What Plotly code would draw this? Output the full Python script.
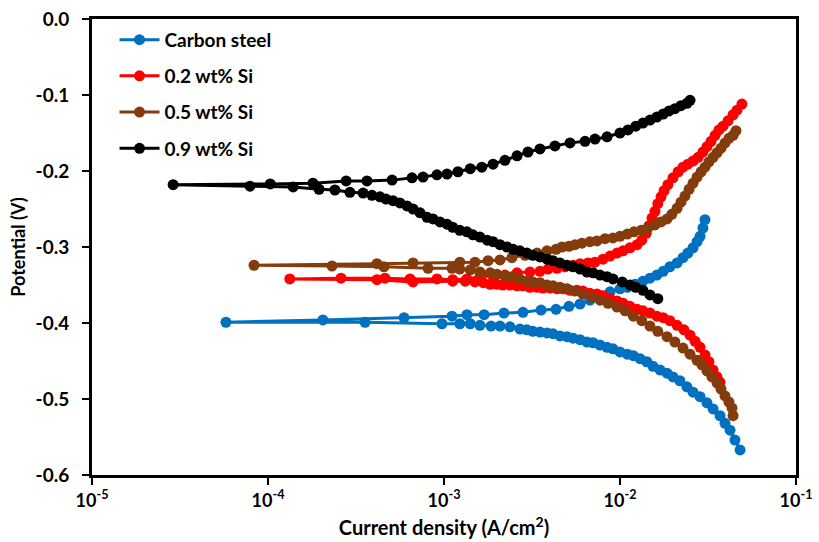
import plotly.graph_objects as go

# ---------------- data (current density in A/cm2, potential in V) ----------------
cs_i = [4.81e-2, 4.50e-2, 4.22e-2, 3.95e-2, 3.70e-2, 3.38e-2, 3.12e-2, 2.85e-2, 2.60e-2, 2.40e-2,
        2.19e-2, 2.00e-2, 1.85e-2, 1.69e-2, 1.54e-2, 1.42e-2, 1.30e-2, 1.19e-2, 1.10e-2, 1.00e-2,
        9.12e-3, 8.44e-3, 7.70e-3, 7.03e-3, 6.49e-3, 5.93e-3, 5.41e-3, 5.00e-3, 4.56e-3, 4.16e-3,
        3.85e-3, 3.51e-3, 3.20e-3, 2.96e-3, 2.70e-3, 2.37e-3, 2.08e-3, 1.85e-3, 1.60e-3, 1.41e-3,
        1.23e-3, 9.74e-4,
        3.56e-4, 5.77e-5, 2.05e-4, 5.93e-4,
        1.11e-3, 1.35e-3, 1.69e-3, 2.19e-3, 2.81e-3, 3.56e-3, 4.33e-3, 5.13e-3, 5.93e-3, 6.75e-3,
        7.70e-3, 8.78e-3, 1.00e-2, 1.10e-2, 1.22e-2, 1.35e-2, 1.48e-2, 1.62e-2, 1.76e-2, 1.92e-2,
        2.11e-2, 2.28e-2, 2.43e-2, 2.60e-2, 2.74e-2, 2.85e-2, 2.96e-2, 3.04e-2]
cs_E = [-0.567, -0.554, -0.541, -0.532, -0.522, -0.513, -0.505, -0.497, -0.491, -0.484,
        -0.476, -0.471, -0.466, -0.462, -0.457, -0.451, -0.447, -0.443, -0.441, -0.438,
        -0.434, -0.432, -0.429, -0.426, -0.425, -0.422, -0.420, -0.418, -0.417, -0.414,
        -0.413, -0.412, -0.411, -0.409, -0.408, -0.405, -0.404, -0.404, -0.403, -0.401,
        -0.401, -0.401,
        -0.399, -0.399, -0.396, -0.393,
        -0.391, -0.389, -0.389, -0.387, -0.386, -0.383, -0.382, -0.378, -0.375, -0.370,
        -0.364, -0.359, -0.355, -0.353, -0.349, -0.345, -0.341, -0.337, -0.332, -0.326,
        -0.321, -0.314, -0.308, -0.301, -0.293, -0.286, -0.275, -0.264]

si02_i = [3.70e-2, 3.56e-2, 3.38e-2, 3.20e-2, 3.04e-2, 2.85e-2, 2.67e-2, 2.50e-2, 2.31e-2, 2.11e-2,
          1.92e-2, 1.76e-2, 1.62e-2, 1.48e-2, 1.35e-2, 1.25e-2, 1.14e-2, 1.04e-2, 9.62e-3, 8.78e-3,
          8.01e-3, 7.40e-3, 6.75e-3, 6.16e-3, 5.70e-3, 5.20e-3, 4.75e-3, 4.39e-3, 4.00e-3, 3.65e-3,
          3.38e-3, 3.08e-3, 2.81e-3, 2.60e-3, 2.37e-3, 2.16e-3, 2.00e-3, 1.83e-3, 1.67e-3, 1.50e-3,
          1.32e-3, 1.12e-3, 6.67e-4,
          4.16e-4, 1.33e-4, 2.60e-4, 4.62e-4, 6.41e-4,
          9.12e-4, 1.12e-3, 1.35e-3, 1.60e-3, 1.90e-3, 2.22e-3, 2.60e-3, 3.08e-3, 3.51e-3, 3.90e-3,
          4.39e-3, 4.87e-3, 5.41e-3, 5.93e-3, 6.58e-3, 7.21e-3, 8.01e-3, 8.78e-3, 9.62e-3, 1.04e-2,
          1.14e-2, 1.25e-2, 1.33e-2, 1.41e-2, 1.46e-2, 1.52e-2, 1.58e-2, 1.64e-2, 1.71e-2, 1.78e-2,
          1.87e-2, 2.00e-2, 2.14e-2, 2.28e-2, 2.43e-2, 2.60e-2, 2.78e-2, 2.96e-2, 3.12e-2, 3.29e-2,
          3.47e-2, 3.65e-2, 3.85e-2, 4.11e-2, 4.39e-2, 4.62e-2, 4.93e-2]
si02_E = [-0.478, -0.471, -0.462, -0.451, -0.442, -0.432, -0.424, -0.416, -0.409, -0.403,
          -0.397, -0.393, -0.391, -0.387, -0.384, -0.382, -0.378, -0.374, -0.371, -0.368,
          -0.364, -0.362, -0.361, -0.358, -0.357, -0.357, -0.355, -0.355, -0.354, -0.354,
          -0.353, -0.353, -0.351, -0.351, -0.350, -0.350, -0.349, -0.349, -0.347, -0.346,
          -0.345, -0.345, -0.346,
          -0.343, -0.342, -0.341, -0.341, -0.342,
          -0.342, -0.343, -0.342, -0.339, -0.338, -0.337, -0.334, -0.333, -0.332, -0.329,
          -0.328, -0.326, -0.324, -0.322, -0.321, -0.320, -0.316, -0.312, -0.308, -0.305,
          -0.301, -0.297, -0.291, -0.282, -0.272, -0.262, -0.253, -0.243, -0.234, -0.226,
          -0.218, -0.209, -0.201, -0.195, -0.191, -0.187, -0.182, -0.175, -0.168, -0.161,
          -0.153, -0.146, -0.141, -0.134, -0.126, -0.120, -0.112]

si05_i = [4.39e-2, 4.33e-2, 4.16e-2, 3.95e-2, 3.75e-2, 3.56e-2, 3.33e-2, 3.12e-2, 2.92e-2, 2.74e-2,
          2.50e-2, 2.28e-2, 2.05e-2, 1.85e-2, 1.64e-2, 1.48e-2, 1.33e-2, 1.19e-2, 1.07e-2, 9.62e-3,
          8.55e-3, 7.70e-3, 6.93e-3, 6.16e-3, 5.55e-3, 5.00e-3, 4.56e-3, 4.16e-3, 3.85e-3, 3.51e-3,
          3.20e-3, 2.96e-3, 2.70e-3, 2.43e-3, 2.22e-3, 2.00e-3, 1.83e-3, 1.60e-3, 1.41e-3, 1.23e-3,
          1.11e-3,
          8.11e-4, 4.56e-4, 2.31e-4, 8.33e-5, 4.16e-4, 6.67e-4,
          1.23e-3, 1.50e-3, 1.78e-3, 2.08e-3, 2.43e-3, 2.89e-3, 3.38e-3, 3.85e-3, 4.33e-3, 4.68e-3,
          5.13e-3, 5.55e-3, 6.08e-3, 6.75e-3, 7.40e-3, 8.22e-3, 9.12e-3, 1.00e-2, 1.10e-2, 1.20e-2,
          1.32e-2, 1.44e-2, 1.58e-2, 1.71e-2, 1.85e-2, 1.97e-2, 2.11e-2, 2.22e-2, 2.34e-2, 2.47e-2,
          2.60e-2, 2.74e-2, 2.89e-2, 3.04e-2, 3.20e-2, 3.38e-2, 3.56e-2, 3.75e-2, 3.95e-2, 4.16e-2,
          4.39e-2, 4.56e-2]
si05_E = [-0.522, -0.512, -0.504, -0.496, -0.487, -0.479, -0.471, -0.463, -0.455, -0.449,
          -0.441, -0.433, -0.425, -0.418, -0.411, -0.404, -0.397, -0.391, -0.384, -0.379,
          -0.374, -0.370, -0.366, -0.362, -0.358, -0.355, -0.353, -0.351, -0.350, -0.347,
          -0.346, -0.345, -0.342, -0.339, -0.338, -0.336, -0.334, -0.333, -0.330, -0.329,
          -0.328,
          -0.328, -0.326, -0.325, -0.324, -0.322, -0.321,
          -0.320, -0.320, -0.318, -0.317, -0.314, -0.311, -0.308, -0.305, -0.303, -0.300,
          -0.299, -0.297, -0.295, -0.293, -0.292, -0.289, -0.288, -0.286, -0.283, -0.280,
          -0.278, -0.275, -0.271, -0.267, -0.263, -0.257, -0.249, -0.241, -0.233, -0.224,
          -0.216, -0.208, -0.201, -0.195, -0.188, -0.182, -0.176, -0.170, -0.163, -0.157,
          -0.153, -0.147]

si09_i = [1.64e-2, 1.48e-2, 1.35e-2, 1.23e-2, 1.14e-2, 1.03e-2, 9.12e-3, 8.44e-3, 7.70e-3, 7.03e-3,
          6.49e-3, 5.93e-3, 5.41e-3, 5.00e-3, 4.56e-3, 4.16e-3, 3.85e-3, 3.51e-3, 3.20e-3, 2.96e-3,
          2.70e-3, 2.47e-3, 2.28e-3, 2.08e-3, 1.90e-3, 1.76e-3, 1.60e-3, 1.46e-3, 1.35e-3, 1.23e-3,
          1.12e-3, 1.04e-3, 9.49e-4, 8.66e-4, 8.01e-4, 7.31e-4, 6.67e-4, 6.16e-4, 5.62e-4, 5.13e-4,
          4.68e-4, 4.33e-4, 3.90e-4, 3.47e-4, 2.92e-4, 2.40e-4,
          1.95e-4, 1.39e-4, 7.90e-5, 2.89e-5, 1.03e-4, 1.80e-4, 2.78e-4,
          3.65e-4, 5.07e-4, 6.58e-4, 7.60e-4, 9.12e-4, 1.04e-3, 1.20e-3, 1.41e-3, 1.64e-3, 1.90e-3,
          2.22e-3, 2.60e-3, 3.00e-3, 3.51e-3, 4.27e-3, 5.20e-3, 6.33e-3, 7.21e-3, 8.44e-3, 1.00e-2,
          1.11e-2, 1.23e-2, 1.35e-2, 1.48e-2, 1.62e-2, 1.76e-2, 1.90e-2, 2.05e-2, 2.22e-2, 2.40e-2,
          2.50e-2]
si09_E = [-0.368, -0.363, -0.357, -0.353, -0.350, -0.346, -0.342, -0.339, -0.337, -0.334,
          -0.333, -0.329, -0.326, -0.324, -0.321, -0.318, -0.316, -0.313, -0.311, -0.308,
          -0.305, -0.303, -0.300, -0.297, -0.293, -0.291, -0.287, -0.284, -0.280, -0.278,
          -0.274, -0.270, -0.267, -0.263, -0.261, -0.255, -0.250, -0.246, -0.242, -0.239,
          -0.237, -0.234, -0.232, -0.229, -0.228, -0.225,
          -0.224, -0.221, -0.220, -0.218, -0.217, -0.216, -0.213,
          -0.213, -0.212, -0.209, -0.208, -0.205, -0.204, -0.201, -0.197, -0.195, -0.191,
          -0.186, -0.180, -0.175, -0.171, -0.167, -0.163, -0.161, -0.158, -0.155, -0.150,
          -0.146, -0.141, -0.137, -0.133, -0.129, -0.125, -0.121, -0.118, -0.114, -0.111,
          -0.107]

series_names = ["Carbon steel", "0.2 wt% Si", "0.5 wt% Si", "0.9 wt% Si"]
series_colors = ["#0070C0", "#FF0000", "#843C0C", "#000000"]

x_tickvals = [1e-5, 1e-4, 1e-3, 1e-2, 1e-1]
x_ticktext = ["10<sup>-5</sup>", "10<sup>-4</sup>", "10<sup>-3</sup>", "10<sup>-2</sup>", "10<sup>-1</sup>"]
y_tickvals = [0.0, -0.1, -0.2, -0.3, -0.4, -0.5, -0.6]
y_ticktext = ["0.0", "-0.1", "-0.2", "-0.3", "-0.4", "-0.5", "-0.6"]

# ---------------- figure ----------------
FONT = "Lato, 'Open Sans', sans-serif"
fig = go.Figure()
data = [(cs_i, cs_E), (si02_i, si02_E), (si05_i, si05_E), (si09_i, si09_E)]
for (xi, ye), name, col in zip(data, series_names, series_colors):
    fig.add_trace(go.Scatter(
        x=xi, y=ye, name=name, mode="lines+markers", legendgroup=name,
        line=dict(color=col, width=3),
        marker=dict(color=col, size=11),
    ))

fig.update_layout(
    width=819, height=542,
    margin=dict(l=92, r=23, t=19, b=67),
    paper_bgcolor="white", plot_bgcolor="white",
    font=dict(family=FONT, color="black", size=18),
    showlegend=True,
    legend=dict(
        x=0.032, y=0.996, xanchor="left", yanchor="top",
        bgcolor="rgba(0,0,0,0)",
        font=dict(family=FONT, size=19, weight="bold", color="black"),
        tracegroupgap=8.5,
        itemwidth=40,
    ),
)
fig.update_xaxes(
    type="log", range=[-5, -1], automargin=False,
    tickvals=x_tickvals, ticktext=x_ticktext,
    tickfont=dict(family=FONT, size=18, weight="bold", color="black"),
    ticks="outside", ticklen=7, tickwidth=2, tickcolor="black",
    showline=True, linecolor="black", linewidth=3, mirror=True,
    showgrid=False, zeroline=False,
    title=dict(text="Current density (A/cm<sup>2</sup>)", standoff=12,
               font=dict(family=FONT, size=20, weight="bold", color="black")),
)
fig.update_yaxes(
    range=[-0.6, 0.0], automargin=False,
    tickvals=y_tickvals, ticktext=y_ticktext,
    tickfont=dict(family=FONT, size=19, weight="bold", color="black"),
    ticks="outside", ticklen=7, tickwidth=2, tickcolor="black",
    ticklabelstandoff=9,
    showline=True, linecolor="black", linewidth=3, mirror=True,
    showgrid=False, zeroline=False,
    title=dict(text="Potential (V)", standoff=6,
               font=dict(family=FONT, size=18, weight="bold", color="black")),
)

fig.write_html("out.html")
